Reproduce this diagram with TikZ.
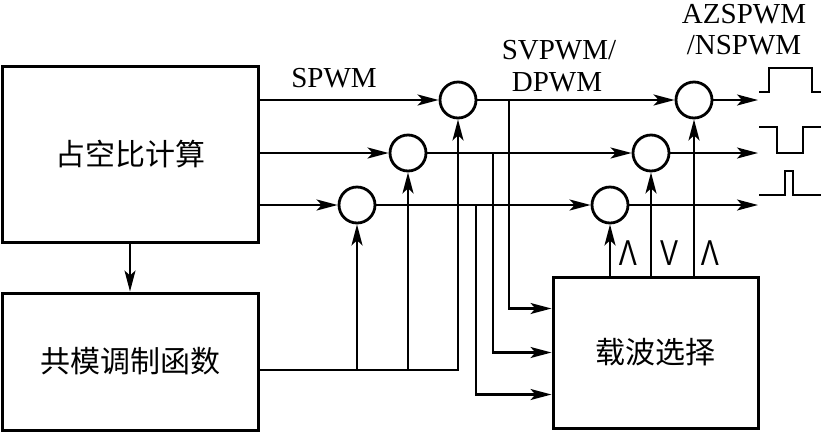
\documentclass[tikz,border=0pt]{standalone}
\usepackage{fontspec}
\setmainfont{Liberation Serif}
\newfontfamily\cjk{Noto Sans CJK SC}
\newfontfamily\symf{Liberation Sans}
\usepackage{tikz}
\usetikzlibrary{arrows.meta}

\begin{document}
\begin{tikzpicture}[x=1pt,y=-1pt,line width=2.2pt,
  >={Stealth[length=21pt,width=11pt,inset=5pt]},
  blk/.style={draw,line width=3pt,inner sep=0pt,font=\cjk\fontsize{30}{32}\selectfont},
  sum/.style={draw,circle,line width=2.8pt,minimum size=36pt,inner sep=0pt},
  lbl/.style={font=\fontsize{29}{30}\selectfont,inner sep=0pt},
  cmp/.style={font=\symf\fontsize{36}{36}\selectfont,inner sep=0pt}]
\useasboundingbox (0,0) rectangle (821,432);

\node[blk,minimum width=256pt,minimum height=176pt] (duty) at (130,154) {占空比计算};
\node[blk,minimum width=256pt,minimum height=137pt] (cmf) at (130,361.5) {共模调制函数};
\node[blk,minimum width=205pt,minimum height=151pt] (carrier) at (655.5,352.5) {载波选择};

\node[sum] (c1) at (458,100) {};
\node[sum] (c2) at (408,153) {};
\node[sum] (c3) at (357,205) {};
\node[sum] (d1) at (694,100) {};
\node[sum] (d2) at (651,153) {};
\node[sum] (d3) at (610,205) {};

\coordinate (o1) at (758,100);
\coordinate (o2) at (758,153);
\coordinate (o3) at (758,205);
\coordinate (m) at (258,370);
\coordinate (t1) at (509,100);
\coordinate (t2) at (493,153);
\coordinate (t3) at (476,205);

\draw[->] (duty.south) -- (cmf.north);

\draw[->] (duty.east |- c1) -- (c1);
\draw[->] (duty.east |- c2) -- (c2);
\draw[->] (duty.east |- c3) -- (c3);
\draw[->] (c1) -- (d1);
\draw[->] (c2) -- (d2);
\draw[->] (c3) -- (d3);
\draw[->] (d1) -- (o1);
\draw[->] (d2) -- (o2);
\draw[->] (d3) -- (o3);

\draw[->] (m) -| (c1.south);
\draw[->] (c2 |- m) -- (c2.south);
\draw[->] (c3 |- m) -- (c3.south);

\draw[->] (t1) |- ([yshift=44pt]carrier.west);
\draw[->] (t2) |- (carrier.west);
\draw[->] (t3) |- ([yshift=-42pt]carrier.west);

\draw[->] (carrier.north -| d3) -- (d3);
\draw[->] (carrier.north -| d2) -- (d2);
\draw[->] (carrier.north -| d1) -- (d1);

\node[cmp] at (628,253) {\scalebox{0.75}[1]{Λ}};
\node[cmp] at (669,253) {\scalebox{0.75}[1]{V}};
\node[cmp] at (710,253) {\scalebox{0.75}[1]{Λ}};

\node[lbl] at (334,78) {SPWM};
\node[lbl] at (559,50) {SVPWM/};
\node[lbl] at (557,82) {DPWM};
\node[lbl] at (744,14) {AZSPWM};
\node[lbl] at (744,45) {/NSPWM};

\draw[line width=2.5pt] (759,92) -- (769,92) -- (769,68) -- (812,68) -- (812,92) -- (821,92);
\draw[line width=2.5pt] (759,127) -- (777,127) -- (777,153) -- (803,153) -- (803,127) -- (821,127);
\draw[line width=2.5pt] (759,195) -- (785,195) -- (785,171) -- (793,171) -- (793,195) -- (821,195);
\end{tikzpicture}
\end{document}
